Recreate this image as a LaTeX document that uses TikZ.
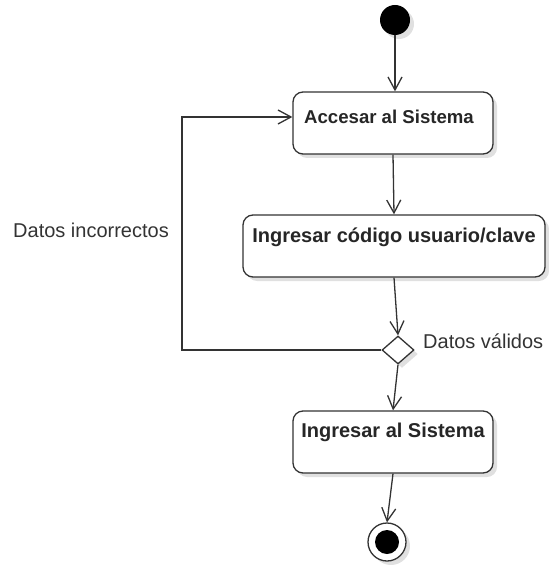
\documentclass[tikz,border=0pt]{standalone}
\usepackage{fontspec}
\setmainfont{Liberation Sans}
\usetikzlibrary{arrows.meta,shapes.geometric,shadows,calc}
\definecolor{ink}{HTML}{333333}
\definecolor{shade}{HTML}{E0E0E0}

\begin{document}
\begin{tikzpicture}[x=1pt,y=-1pt,
  every node/.style={font=\fontsize{20}{24}\selectfont, text=ink},
  softshadow/.style={drop shadow={shadow xshift=4pt,shadow yshift=-4pt,fill=shade,opacity=1}},
  act/.style={draw=ink, line width=1.3pt, fill=white, rounded corners=10pt,
    minimum height=62pt, inner sep=0pt, softshadow},
  acttext/.style={anchor=base, font=\fontsize{20}{24}\selectfont\bfseries, text=black!85},
  guard/.style={anchor=base west, inner sep=0pt},
  flow/.style={draw=ink, line width=1.3pt, -{Straight Barb[length=13pt,width=14pt]}},
  link/.style={draw=ink, line width=1.3pt}]

\useasboundingbox (0,0) rectangle (548,569);

% initial and final states
\node[circle, fill=black, minimum size=30pt, inner sep=0pt, softshadow] (start) at (395,20) {};
\node[circle, draw=ink, line width=1.3pt, fill=white, minimum size=38pt, inner sep=0pt, softshadow] (end) at (387,542) {};
\node[circle, fill=black, minimum size=24pt, inner sep=0pt] (endcore) at (end.center) {};

% activities
\node[act, minimum width=200pt] (acc) at (393,123) {};
\node[act, minimum width=302pt] (cod) at (394,246) {};
\node[act, minimum width=200pt] (fin) at (393,442) {};

\node[acttext, font=\fontsize{18.6}{22}\selectfont\bfseries] (acct) at (389,124) {Accesar al Sistema};
\node[acttext] (codt) at (394,242) {Ingresar código usuario/clave};
\node[acttext] (fint) at (393,437) {Ingresar al Sistema};

% decision
\node[diamond, draw=ink, line width=1.3pt, fill=white, minimum width=32pt, minimum height=28pt,
  aspect=1.14, inner sep=0pt, softshadow] (dec) at (398,350) {};

% guards
\node[guard] (gno) at (13,237) {Datos incorrectos};
\node[guard] (gyes) at (423,348) {Datos válidos};

% loop corners
\coordinate (loopA) at (182,350);
\coordinate (loopB) at (182,117);

% flows
\draw[flow] (start.south) -- (start.south |- acc.north);
\draw[flow] (acc.south) -- (cod.north);
\draw[flow] (cod.south) -- (dec.north);
\draw[flow] (dec.south) -- (fin.north);
\draw[flow] (fin.south) -- (end.north);
\draw[flow] (dec.west) -- (loopA) -- (loopB) -- (acc.west |- loopB);

\end{tikzpicture}
\end{document}
